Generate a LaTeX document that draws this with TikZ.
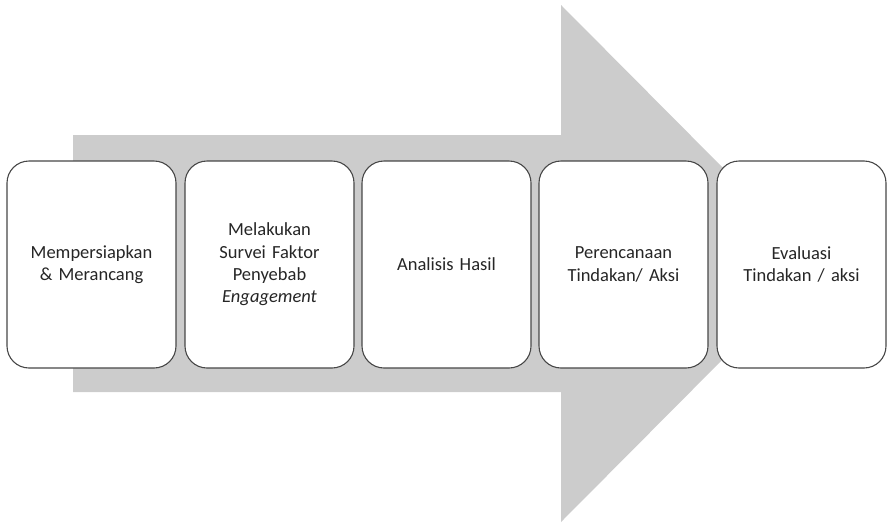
\documentclass[tikz,border=0pt]{standalone}
\usepackage{fontspec}
\setmainfont[WordSpace=0.8]{Carlito}
\begin{document}
\begin{tikzpicture}[x=1pt,y=-1pt,
  stage/.style={draw=black!72, line width=1.1pt, fill=white, rounded corners=22pt,
    minimum width=169pt, minimum height=207pt, inner sep=0pt,
    align=center, text width=160pt, font=\fontsize{18.5}{22.4}\selectfont, text=black!85}]
  \useasboundingbox (0,0) rectangle (888,525);
  % big process arrow in the background
  \fill[black!20] (73,135) -- (561,135) -- (561,5) -- (818,263.5) -- (561,522)
    -- (561,392) -- (73,392) -- cycle;
  % stages
  \node[stage] (s1) at (91.5,264.5) {Mempersiapkan\\\& Merancang};
  \node[stage] (s2) at (269.5,264.5) {Melakukan\\Survei Faktor\\Penyebab\\\textit{Engagement}};
  \node[stage] (s3) at (446.5,264.5) {Analisis Hasil};
  \node[stage] (s4) at (623.5,264.5) {Perencanaan\\Tindakan/ Aksi};
  \node[stage] (s5) at (801.5,264.5) {Evaluasi\\Tindakan / aksi};
\end{tikzpicture}
\end{document}
